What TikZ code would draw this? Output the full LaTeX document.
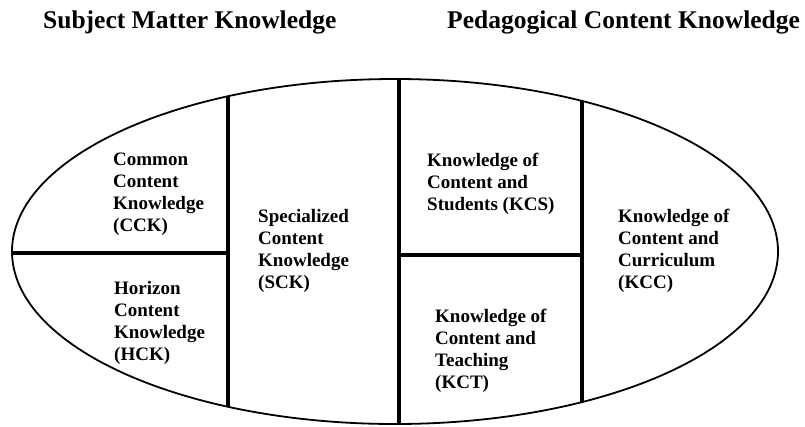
\documentclass[tikz,border=0pt]{standalone}
\usepackage{fontspec}
\setmainfont{Liberation Serif}
\begin{document}
\begin{tikzpicture}[x=1pt,y=-1pt,
  divider/.style={line width=3.6pt, black},
  rim/.style={line width=1.8pt, black},
  lbl/.style={anchor=base west, inner sep=0pt, align=left, font=\bfseries\fontsize{19}{22}\selectfont},
  heading/.style={anchor=base west, inner sep=0pt, font=\bfseries\fontsize{25.5}{30}\selectfont}]
\useasboundingbox (0,0) rectangle (805,426);
\node[heading] (smk) at (43,28) {Subject Matter Knowledge};
\node[heading] (pck) at (447,28) {Pedagogical Content Knowledge};
\begin{scope}
  \clip (395,251.5) ellipse [x radius=383pt, y radius=172.5pt];
  \draw[divider] (228,60) -- (228,440);
  \draw[divider] (399,60) -- (399,440);
  \draw[divider] (582,60) -- (582,440);
  \draw[divider] (0,253) -- (228,253);
  \draw[divider] (399,255) -- (582,255);
\end{scope}
\draw[rim] (395,251.5) ellipse [x radius=383pt, y radius=172.5pt];
\node[lbl] (cck) at (113,231) {Common\\Content\\Knowledge\\(CCK)};
\node[lbl] (sck) at (258,288) {Specialized\\Content\\Knowledge\\(SCK)};
\node[lbl] (hck) at (114,360) {Horizon\\Content\\Knowledge\\(HCK)};
\node[lbl] (kcs) at (427,210) {Knowledge of\\Content and\\Students (KCS)};
\node[lbl] (kcc) at (618,288) {Knowledge of\\Content and\\Curriculum\\(KCC)};
\node[lbl] (kct) at (435,388) {Knowledge of\\Content and\\Teaching\\(KCT)};
\end{tikzpicture}
\end{document}
